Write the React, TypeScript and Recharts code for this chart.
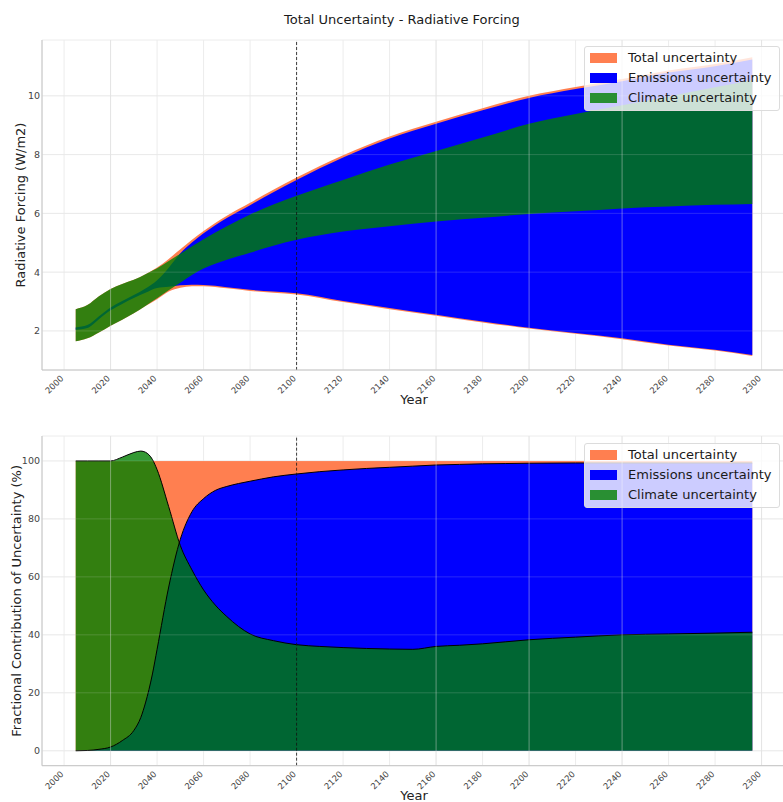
import React from 'react';
import { ComposedChart, Area, Line, XAxis, YAxis, CartesianGrid, ReferenceLine, Legend } from 'recharts';

const FONT = '"DejaVu Sans", Verdana, sans-serif';
const ORANGE = '#ff7f50';
const BLUE = '#0000ff';
const GREEN = '#008000';

// ---------- Top panel: radiative forcing ranges (W/m2) ----------
const rfYears = [2005, 2010, 2015, 2020, 2025, 2030, 2035, 2040, 2045, 2050, 2055, 2060, 2070, 2080, 2090, 2100, 2120, 2140, 2160, 2180, 2200, 2220, 2240, 2260, 2280, 2296];
const totalUpper = [2.74, 2.88, 3.18, 3.43, 3.6, 3.74, 3.93, 4.16, 4.45, 4.78, 5.1, 5.4, 5.92, 6.36, 6.8, 7.22, 7.98, 8.62, 9.12, 9.58, 10.0, 10.3, 10.57, 10.86, 11.08, 11.31];
const totalLower = [1.65, 1.75, 1.95, 2.18, 2.38, 2.6, 2.85, 3.08, 3.34, 3.47, 3.52, 3.52, 3.45, 3.36, 3.3, 3.24, 2.98, 2.74, 2.52, 2.29, 2.08, 1.9, 1.72, 1.5, 1.33, 1.15];
const emisUpper = [2.12, 2.2, 2.5, 2.8, 3.02, 3.22, 3.44, 3.72, 4.15, 4.64, 5.01, 5.32, 5.84, 6.28, 6.72, 7.14, 7.9, 8.55, 9.05, 9.51, 9.93, 10.23, 10.5, 10.79, 11.01, 11.24];
const emisLower = [2.04, 2.1, 2.4, 2.7, 2.92, 3.12, 3.3, 3.46, 3.5, 3.55, 3.57, 3.56, 3.49, 3.4, 3.34, 3.28, 3.02, 2.78, 2.55, 2.32, 2.11, 1.93, 1.75, 1.53, 1.36, 1.18];
const climUpper = [2.74, 2.88, 3.18, 3.43, 3.6, 3.74, 3.93, 4.13, 4.38, 4.63, 4.88, 5.12, 5.56, 5.96, 6.3, 6.6, 7.14, 7.66, 8.12, 8.58, 9.05, 9.38, 9.68, 9.98, 10.29, 10.54];
const climLower = [1.65, 1.75, 1.95, 2.18, 2.38, 2.6, 2.85, 3.11, 3.38, 3.64, 3.9, 4.12, 4.42, 4.66, 4.9, 5.1, 5.38, 5.56, 5.72, 5.85, 5.98, 6.07, 6.17, 6.23, 6.29, 6.32];

// ---------- Bottom panel: fractional contribution (%) ----------
const fracYears = [2005, 2010, 2015, 2020, 2025, 2030, 2033, 2035, 2038, 2040, 2045, 2050, 2055, 2060, 2065, 2070, 2075, 2080, 2090, 2100, 2110, 2120, 2130, 2140, 2150, 2160, 2170, 2180, 2190, 2200, 2220, 2240, 2260, 2280, 2296];
const totalFrac = [100, 100, 100, 100, 100, 100, 100, 100, 100, 100, 100, 100, 100, 100, 100, 100, 100, 100, 100, 100, 100, 100, 100, 100, 100, 100, 100, 100, 100, 100, 100, 100, 100, 100, 100];
const emissionsFrac = [0, 0.1, 0.5, 1.3, 3.5, 7.0, 11.5, 16.5, 26.5, 35, 56.5, 73, 82.5, 87.0, 89.8, 91.2, 92.2, 93.0, 94.5, 95.5, 96.3, 96.9, 97.4, 97.8, 98.2, 98.6, 98.8, 99.0, 99.1, 99.2, 99.3, 99.3, 99.3, 99.3, 99.3];
const climateFrac = [100, 100, 100, 100, 101.3, 102.9, 103.4, 103.0, 100.5, 97, 84.2, 70.8, 62.4, 55.5, 50.3, 46.3, 42.9, 40.3, 38.0, 36.6, 36.0, 35.6, 35.3, 35.1, 35.0, 36.0, 36.4, 36.9, 37.6, 38.3, 39.2, 40.0, 40.3, 40.6, 40.9];

// ---------- Axes ----------
const xTicks = [2000, 2020, 2040, 2060, 2080, 2100, 2120, 2140, 2160, 2180, 2200, 2220, 2240, 2260, 2280, 2300];
const rfTicks = [2, 4, 6, 8, 10];
const fracTicks = [0, 20, 40, 60, 80, 100];
const brightGrid = [2020, 2160, 2200, 2240, 2300];
const seriesNames = ['Total uncertainty', 'Emissions uncertainty', 'Climate uncertainty'];
const seriesColors = [ORANGE, BLUE, GREEN];
const seriesOpacity = [1, 1, 0.8];

const rfData = rfYears.map((year, i) => ({
  year,
  total: [totalLower[i], totalUpper[i]],
  emissions: [emisLower[i], emisUpper[i]],
  climate: [climLower[i], climUpper[i]],
}));

const fracData = fracYears.map((year, i) => ({
  year,
  total: totalFrac[i],
  emissions: emissionsFrac[i],
  climate: climateFrac[i],
}));

const XTick = (props: any) => {
  const { x, y, payload } = props;
  const yy = y + 5;
  return (
    <text x={x} y={yy} transform={`rotate(-45 ${x} ${yy})`} textAnchor="end" fontSize={8.5} fontFamily={FONT} fill="#444">
      {payload.value}
    </text>
  );
};

const LegendBox = () => (
  <div
    style={{
      background: 'rgba(255,255,255,0.8)',
      border: '1px solid #dcdcdc',
      borderRadius: 3,
      padding: '1px 0 2px 0',
      width: 196,
      boxSizing: 'border-box',
      fontFamily: FONT,
    }}
  >
    {seriesNames.map((name, i) => (
      <div key={name} style={{ display: 'flex', alignItems: 'center', height: 20 }}>
        <span
          style={{
            display: 'inline-block',
            marginLeft: 5,
            width: 27,
            height: 9.5,
            background: seriesColors[i],
            opacity: seriesOpacity[i],
          }}
        />
        <span style={{ marginLeft: 11, fontSize: 13, color: '#1a1a1a', whiteSpace: 'nowrap', lineHeight: '20px' }}>{name}</span>
      </div>
    ))}
  </div>
);

const axisLabelStyle = { fontSize: 13, fontFamily: FONT, fill: '#222' };

const commonX = (
  <XAxis
    dataKey="year"
    type="number"
    domain={[1990.5, 2310.5]}
    allowDataOverflow
    ticks={xTicks}
    interval={0}
    tick={<XTick />}
    tickLine={false}
    tickSize={4}
    tickMargin={0}
    axisLine={{ stroke: '#c4c4c4' }}
  />
);

export default function App() {
  return (
    <div style={{ position: 'absolute', left: 0, top: 0, width: 783, height: 802, overflow: 'hidden', background: '#fff' }}>
      <div
        style={{
          position: 'absolute',
          top: 12,
          left: 0,
          width: 804,
          textAlign: 'center',
          fontFamily: FONT,
          fontSize: 13,
          color: '#1a1a1a',
          lineHeight: 'normal',
        }}
      >
        Total Uncertainty - Radiative Forcing
      </div>

      <div style={{ position: 'absolute', top: 0, left: 0 }}>
        <ComposedChart width={790} height={410} data={rfData} margin={{ top: 40, right: 4, left: 6, bottom: 0 }}>
          <CartesianGrid stroke="#ececec" strokeWidth={1} />
          {React.cloneElement(commonX, {
            height: 40,
            label: { value: 'Year', position: 'insideBottom', offset: 6, style: axisLabelStyle },
          })}
          <YAxis
            type="number"
            domain={[0.67, 11.9]}
            allowDataOverflow
            ticks={rfTicks}
            width={36}
            tickLine={false}
            tickSize={2}
            tickMargin={0}
            axisLine={{ stroke: '#c4c4c4' }}
            tick={{ fontSize: 9.5, fontFamily: FONT, fill: '#444' }}
            label={{ value: 'Radiative Forcing (W/m2)', angle: -90, position: 'insideLeft', offset: 14, style: { ...axisLabelStyle, textAnchor: 'middle' } }}
          />
          <Area type="monotone" dataKey="total" name={seriesNames[0]} fill={ORANGE} fillOpacity={1} stroke="none" isAnimationActive={false} />
          <Area type="monotone" dataKey="emissions" name={seriesNames[1]} fill={BLUE} fillOpacity={1} stroke="none" isAnimationActive={false} />
          <Area type="monotone" dataKey="climate" name={seriesNames[2]} fill={GREEN} fillOpacity={0.8} stroke="none" isAnimationActive={false} />
          {brightGrid.map((g) => (
            <ReferenceLine key={g} x={g} stroke="#dcdcdc" strokeOpacity={0.45} strokeWidth={1} />
          ))}
          {rfTicks.map((t) => (
            <ReferenceLine key={'h' + t} y={t} stroke="#e0e0e0" strokeOpacity={0.18} strokeWidth={1} />
          ))}
          <ReferenceLine x={2100} stroke="#111" strokeDasharray="3 2" strokeWidth={0.8} />
          <Legend
            layout="vertical"
            align="center"
            verticalAlign="middle"
            content={<LegendBox />}
            wrapperStyle={{ left: 584, top: 46, width: 196 }}
          />
        </ComposedChart>
      </div>

      <div style={{ position: 'absolute', top: 400, left: 0 }}>
        <ComposedChart width={790} height={402} data={fracData} margin={{ top: 36, right: 4, left: 6, bottom: 0 }}>
          <CartesianGrid stroke="#ececec" strokeWidth={1} />
          {React.cloneElement(commonX, {
            height: 36.3,
            label: { value: 'Year', position: 'insideBottom', offset: 2, style: axisLabelStyle },
          })}
          <YAxis
            type="number"
            domain={[-5.15, 108.6]}
            allowDataOverflow
            ticks={fracTicks}
            width={36}
            tickLine={false}
            tickSize={2}
            tickMargin={0}
            axisLine={{ stroke: '#c4c4c4' }}
            tick={{ fontSize: 9.5, fontFamily: FONT, fill: '#444' }}
            label={{ value: 'Fractional Contribution of Uncertainty (%)', angle: -90, position: 'insideLeft', offset: 10, style: { ...axisLabelStyle, textAnchor: 'middle' } }}
          />
          <Area type="monotone" dataKey="total" name={seriesNames[0]} baseValue={0} fill={ORANGE} fillOpacity={1} stroke="none" isAnimationActive={false} />
          <Area type="monotone" dataKey="emissions" name={seriesNames[1]} baseValue={0} fill={BLUE} fillOpacity={1} stroke="none" isAnimationActive={false} />
          <Area type="monotone" dataKey="climate" name={seriesNames[2]} baseValue={0} fill={GREEN} fillOpacity={0.8} stroke="none" isAnimationActive={false} />
          <Line type="monotone" dataKey="emissions" stroke="#000" strokeWidth={1} dot={false} activeDot={false} legendType="none" isAnimationActive={false} />
          <Line type="monotone" dataKey="climate" stroke="#000" strokeWidth={1} dot={false} activeDot={false} legendType="none" isAnimationActive={false} />
          {brightGrid.map((g) => (
            <ReferenceLine key={g} x={g} stroke="#dcdcdc" strokeOpacity={0.45} strokeWidth={1} />
          ))}
          {fracTicks.map((t) => (
            <ReferenceLine key={'h' + t} y={t} stroke="#e0e0e0" strokeOpacity={0.18} strokeWidth={1} />
          ))}
          <ReferenceLine x={2100} stroke="#111" strokeDasharray="3 2" strokeWidth={0.8} />
          <Legend
            layout="vertical"
            align="center"
            verticalAlign="middle"
            content={<LegendBox />}
            wrapperStyle={{ left: 584, top: 43, width: 196 }}
          />
        </ComposedChart>
      </div>
    </div>
  );
}
